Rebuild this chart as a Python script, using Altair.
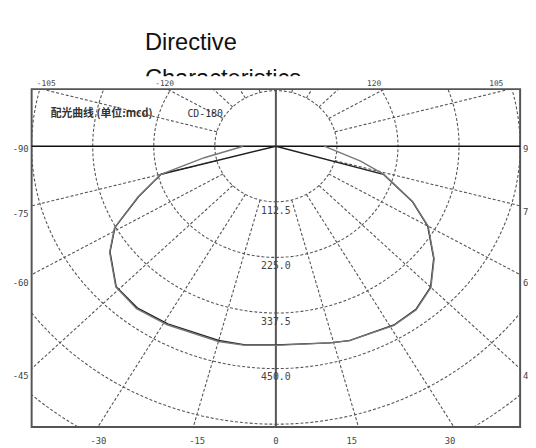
import altair as alt
import pandas as pd

# ---- measured luminous intensity curves (angle in degrees from the 0° axis, mcd)
angle_black = [-90, -75, -68, -61, -55, -46, -38, -29, -15, -8, 0, 14, 19, 31, 38, 45, 52, 60, 66, 74, 90]
mcd_black = [0, 219, 273, 339, 373, 409, 415, 411, 407, 406, 402, 410, 416, 422, 419, 403, 369, 323, 275, 206, 0]
angle_gray = [-90, -80, -75, -68, -61, -55, -46, -38, -29, -15, -8, 0, 14, 19, 31, 38, 45, 52, 60, 66, 74, 79, 90]
mcd_gray = [60, 134, 219, 274, 340, 374, 410, 417, 413, 409, 407, 403, 410, 416, 423, 420, 404, 370, 324, 276, 207, 159, 89]

# ---- polar grid
ring_values = [112.5, 225.0, 337.5, 450.0, 562.5, 675.0]
ring_text = ["112.5", "225.0", "337.5", "450.0"]
spoke_angles = [-165, -150, -135, -120, -105, -75, -60, -45, -30, -15, 15, 30, 45, 60, 75, 105, 120, 135, 150, 165]
ring_steps = list(range(0, 362, 2))

# ---- tick labels around the frame
bottom_labels = ["-30", "-15", "0", "15", "30"]
bottom_pos = [-327, -145, 0, 140, 321]
left_labels = ["-90", "-75", "-60", "-45"]
left_pos = [-2, -133, -273, -462]
right_labels = ["90", "75", "60", "45"]
right_pos = [-2, -130, -273, -462]
top_labels = ["-105", "-120", "120", "105"]
top_pos = [-423, -205, 181, 406]

title_lines = ["Directive", "Characteristics"]
header_left = "配光曲线 (单位:mcd)"
header_right = "CD-180"

xs = alt.Scale(domain=[-450, 450], nice=False, zero=False)
ys = alt.Scale(domain=[-568, 115.5], nice=False, zero=False)

rows = []
for s, (aa, rr) in {"black": (angle_black, mcd_black), "gray": (angle_gray, mcd_gray)}.items():
    for i, (a, r) in enumerate(zip(aa, rr)):
        rows.append({"series": s, "a": a, "r": r, "i": i})
curve_df = pd.DataFrame(rows)

ring_df = pd.DataFrame([{"r": r, "a": a} for r in ring_values for a in ring_steps])
spoke_df = pd.DataFrame({"a": spoke_angles})

X = alt.X("X:Q", scale=xs, axis=None)
Y = alt.Y("Y:Q", scale=ys, axis=None)

rings = alt.Chart(ring_df).mark_line(
    color="#555", strokeDash=[3, 2], strokeWidth=1.1, clip=True
).transform_calculate(
    X="datum.r*sin(datum.a*PI/180)", Y="-datum.r*cos(datum.a*PI/180)"
).encode(x=X, y=Y, detail="r:N", order="a:Q")

spokes = alt.Chart(spoke_df).mark_rule(
    color="#555", strokeDash=[3, 2], strokeWidth=1.1, clip=True
).transform_calculate(
    X="112.5*sin(datum.a*PI/180)", Y="-112.5*cos(datum.a*PI/180)",
    X2="900*sin(datum.a*PI/180)", Y2="-900*cos(datum.a*PI/180)"
).encode(x=X, y=Y, x2="X2:Q", y2="Y2:Q")

hline = alt.Chart(pd.DataFrame({"Y": [0]})).mark_rule(color="#111", strokeWidth=1.5).encode(
    y=Y, x=alt.value(0), x2=alt.value(496))
vline = alt.Chart(pd.DataFrame({"X": [0]})).mark_rule(color="#555", strokeWidth=2).encode(
    x=X, y=alt.value(0), y2=alt.value(343))

curves = alt.Chart(curve_df).mark_line(strokeWidth=1.4, clip=True).transform_calculate(
    X="datum.r*sin(datum.a*PI/180)", Y="-datum.r*cos(datum.a*PI/180)"
).encode(
    x=X, y=Y, order="i:Q",
    color=alt.Color("series:N", scale=alt.Scale(domain=["gray", "black"], range=["#777", "#222"]), legend=None),
)

mono = "DejaVu Sans Mono"

ring_lab = alt.Chart(pd.DataFrame({"t": ring_text, "Y": [-v for v in ring_values[:4]], "X": [0] * 4})).mark_text(
    font=mono, fontSize=10, color="#444", dy=9).encode(x=X, y=Y, text="t:N")

bot_lab = alt.Chart(pd.DataFrame({"t": bottom_labels, "X": bottom_pos, "Y": [-568] * 5})).mark_text(
    font=mono, fontSize=9, color="#444", dy=14).encode(x=X, y=Y, text="t:N")
left_lab = alt.Chart(pd.DataFrame({"t": left_labels, "Y": left_pos, "X": [-450] * 4})).mark_text(
    font=mono, fontSize=9, color="#444", align="right", dx=-3, dy=2).encode(x=X, y=Y, text="t:N")
right_lab = alt.Chart(pd.DataFrame({"t": right_labels, "Y": right_pos, "X": [450] * 4})).mark_text(
    font=mono, fontSize=9, color="#444", align="left", dx=3, dy=2).encode(x=X, y=Y, text="t:N")
top_lab = alt.Chart(pd.DataFrame({"t": top_labels, "X": top_pos, "Y": [115.5] * 4})).mark_text(
    font=mono, fontSize=8, color="#444", dy=-5).encode(x=X, y=Y, text="t:N")

header_l = alt.Chart(pd.DataFrame({"t": [header_left], "X": [-415], "Y": [66]})).mark_text(
    font="Noto Sans CJK SC", fontSize=11, fontWeight="bold", color="#333", align="left").encode(x=X, y=Y, text="t:N")
header_r = alt.Chart(pd.DataFrame({"t": [header_right], "X": [-163], "Y": [66]})).mark_text(
    font=mono, fontSize=10, color="#333", align="left").encode(x=X, y=Y, text="t:N")

title1 = alt.Chart(pd.DataFrame({"t": [title_lines[0]]})).mark_text(
    font="Liberation Sans", fontSize=24, color="#111", align="left", baseline="alphabetic").encode(
    x=alt.value(115), y=alt.value(-40), text="t:N")
title2 = alt.Chart(pd.DataFrame({"t": [title_lines[1]]})).mark_text(
    font="Liberation Sans", fontSize=24, color="#111", align="left", baseline="alphabetic").encode(
    x=alt.value(115), y=alt.value(-3), text="t:N")
mask = alt.Chart(pd.DataFrame({"t": [0]})).mark_rect(color="white").encode(
    x=alt.value(100), x2=alt.value(420), y=alt.value(-13), y2=alt.value(-1.5))

chart = alt.layer(
    rings, spokes, hline, vline, curves, title1, title2, mask,
    ring_lab, bot_lab, left_lab, right_lab, top_lab, header_l, header_r
).properties(
    width=496, height=343,
    padding={"left": 24, "top": 79, "right": 8, "bottom": 18},
    autosize=alt.AutoSizeParams(type="none"),
).configure_view(stroke="#555", strokeWidth=2)

chart.save("out.html", embed_options={"renderer": "svg", "actions": False})
